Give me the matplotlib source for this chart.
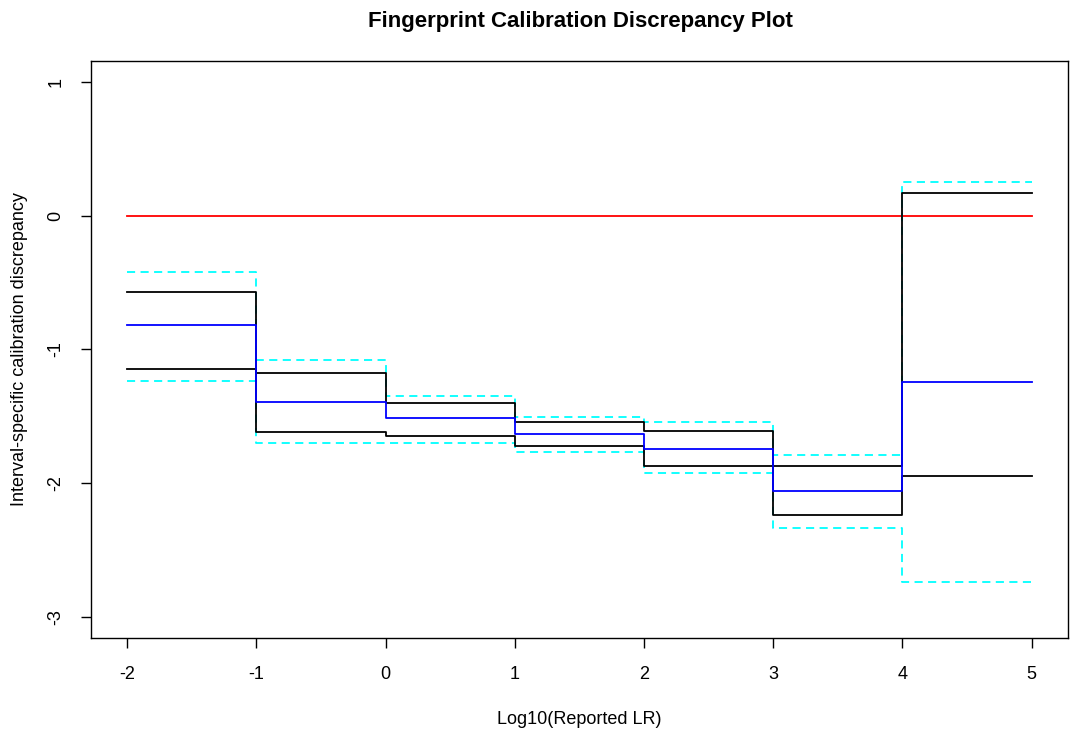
import matplotlib
matplotlib.use("Agg")
import matplotlib.pyplot as plt

plt.rcParams['font.family'] = ['Liberation Sans', 'DejaVu Sans']

# interval edges (log10 reported LR)
edges = [-2, -1, 0, 1, 2, 3, 4, 5]
# per-interval values
blue_mid    = [-0.82, -1.39, -1.515, -1.632, -1.742, -2.06, -1.24]
black_upper = [-0.571, -1.178, -1.398, -1.543, -1.612, -1.873, 0.168]
black_lower = [-1.145, -1.617, -1.647, -1.723, -1.870, -2.24, -1.947]
cyan_upper  = [-0.419, -1.080, -1.346, -1.503, -1.546, -1.792, 0.253]
cyan_lower  = [-1.233, -1.697, -1.697, -1.767, -1.922, -2.336, -2.737]
zero_line = [0, 0]

def stepvals(v):
    return list(v) + [v[-1]]

fig = plt.figure(figsize=(10.71, 7.32), dpi=100)
ax = fig.add_axes([0.085, 0.1284, 0.912, 0.7883])

lw = 1.3
ax.plot([edges[0], edges[-1]], zero_line, color='red', lw=lw)
ax.step(edges, stepvals(cyan_upper), where='post', color='cyan', lw=lw, linestyle=(0, (4.5, 3)))
ax.step(edges, stepvals(cyan_lower), where='post', color='cyan', lw=lw, linestyle=(0, (4.5, 3)))
ax.step(edges, stepvals(black_upper), where='post', color='black', lw=lw)
ax.step(edges, stepvals(black_lower), where='post', color='black', lw=lw)
ax.step(edges, stepvals(blue_mid), where='post', color='blue', lw=lw)

ax.set_xlim(-2.28, 5.28)
ax.set_ylim(-3.16, 1.16)
ax.set_xticks(range(-2, 6))
ax.set_yticks(range(-3, 2))
ax.set_xticklabels([str(v) for v in range(-2, 6)])
ax.set_yticklabels([str(v) for v in range(-3, 2)], rotation=90, va='center')
ax.tick_params(direction='out', length=7, width=1, labelsize=13)
ax.tick_params(axis='x', pad=13)
ax.tick_params(axis='y', pad=12)
for s in ax.spines.values():
    s.set_linewidth(1)

ax.set_xlabel('Log10(Reported LR)', fontsize=13, labelpad=20)
ax.set_ylabel('Interval-specific calibration discrepancy', fontsize=13, labelpad=14)
fig.suptitle('Fingerprint Calibration Discrepancy Plot', fontsize=16, fontweight='bold', y=0.985, x=0.542)

fig.savefig('out.png', dpi=100)
